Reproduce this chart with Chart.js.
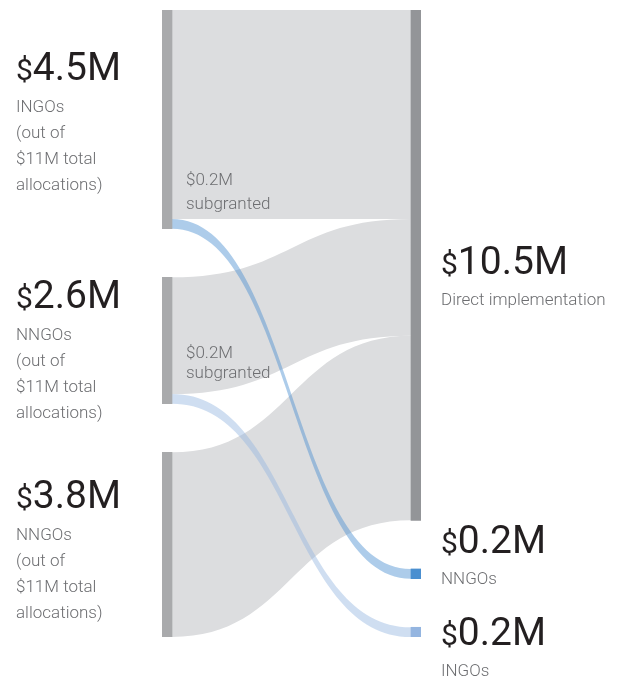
<!DOCTYPE html>
<html><head><meta charset="utf-8">
<script src="https://cdn.jsdelivr.net/npm/chart.js@4"></script>
<style>html,body{margin:0;padding:0;background:#fff}</style>
</head><body><canvas id="c" width="633" height="682"></canvas>
<script>
// ---- data ----
const sourceNames = ['INGOs', 'NNGOs', 'NNGOs'];
const sourceValues = [4.5, 2.6, 3.8];
const sourceAmounts = ['4.5M', '2.6M', '3.8M'];
const sourceSubLines = ['(out of', '$11M total', 'allocations)'];
const targetNames = ['Direct implementation', 'NNGOs', 'INGOs'];
const targetValues = [10.5, 0.2, 0.2];
const targetAmounts = ['10.5M', '0.2M', '0.2M'];
const flowFrom = [0, 0, 1, 1, 2];
const flowTo = [0, 1, 0, 2, 0];
const flowValues = [4.3, 0.2, 2.4, 0.2, 3.8];
const subgrantSources = [0, 1];
const subgrantLines = ['$0.2M', 'subgranted'];

// ---- layout / style ----
const nodeGap = 1.0;
const nodeWidth = 10;
const sourceColor = '#a9aaac';
const targetColors = ['#939598', '#4a8fd0', '#94b5e0'];
const flowColors = ['#dcdddf', 'rgba(74,143,208,0.45)', 'rgba(148,181,224,0.45)'];
const leftBigOffset = [-39, -33, -37];
const rightBigOffset = [9, -21, 13];
const subgrantOffset = [[-44, -20], [-46, -26]];

function stack(vals) { let y = 0; return vals.map(v => { const r = [y, y + v]; y += v + nodeGap; return r; }); }
const srcRanges = stack(sourceValues);
const tgtRanges = stack(targetValues);
const yMax = Math.max(srcRanges[srcRanges.length - 1][1], tgtRanges[tgtRanges.length - 1][1]);

const nodeData = srcRanges.map(r => ({ x: 0, y: r })).concat(tgtRanges.map(r => ({ x: 1, y: r })));
const nodeColors = srcRanges.map(() => sourceColor).concat(targetColors);

const flowPlugin = {
  id: 'flows',
  beforeDatasetsDraw(chart) {
    const { ctx, scales: { x, y } } = chart;
    const x0 = x.getPixelForValue(0) + nodeWidth / 2;
    const x1 = x.getPixelForValue(1) - nodeWidth / 2;
    const xm = (x0 + x1) / 2;
    const sOff = srcRanges.map(r => r[0]);
    const tOff = tgtRanges.map(r => r[0]);
    const flows = flowValues.map((v, i) => {
      const s = flowFrom[i], t = flowTo[i];
      const a = sOff[s]; sOff[s] += v;
      const b = tOff[t]; tOff[t] += v;
      return { a, b, v, t };
    });
    flows.sort((p, q) => (p.t === 0 ? 0 : 1) - (q.t === 0 ? 0 : 1));
    ctx.save();
    flows.forEach(f => {
      const ya0 = y.getPixelForValue(f.a), ya1 = y.getPixelForValue(f.a + f.v);
      const yb0 = y.getPixelForValue(f.b), yb1 = y.getPixelForValue(f.b + f.v);
      ctx.beginPath();
      ctx.moveTo(x0, ya0);
      ctx.bezierCurveTo(xm, ya0, xm, yb0, x1, yb0);
      ctx.lineTo(x1, yb1);
      ctx.bezierCurveTo(xm, yb1, xm, ya1, x0, ya1);
      ctx.closePath();
      ctx.fillStyle = flowColors[f.t];
      ctx.fill();
    });
    ctx.restore();
  },
  afterDraw(chart) {
    const { ctx, scales: { x, y } } = chart;
    ctx.save();
    ctx.textBaseline = 'alphabetic';
    ctx.textAlign = 'left';
    function big(txt, px, base) {
      ctx.fillStyle = '#231f20';
      ctx.font = '30px Roboto';
      ctx.fillText('$', px, base);
      const w = ctx.measureText('$').width;
      ctx.font = '39px Roboto';
      ctx.fillText(txt, px + w, base);
    }
    function small(txt, px, base) {
      ctx.fillStyle = '#6d6e71';
      ctx.font = '300 17px Roboto';
      ctx.fillText(txt, px, base);
    }
    // left labels
    srcRanges.forEach((r, i) => {
      const cy = y.getPixelForValue((r[0] + r[1]) / 2);
      const b = cy + leftBigOffset[i];
      big(sourceAmounts[i], 16, b);
      small(sourceNames[i], 16, b + 32);
      sourceSubLines.forEach((l, k) => small(l, 16, b + 58 + k * 26));
    });
    // right labels
    const rx = x.getPixelForValue(1) + nodeWidth / 2 + 20;
    tgtRanges.forEach((r, i) => {
      const cy = y.getPixelForValue((r[0] + r[1]) / 2);
      const b = cy + rightBigOffset[i];
      big(targetAmounts[i], rx, b);
      small(targetNames[i], rx, b + 31);
    });
    // subgranted labels
    const sx = x.getPixelForValue(0) + nodeWidth / 2 + 14;
    subgrantSources.forEach((s, j) => {
      const bottom = y.getPixelForValue(srcRanges[s][1]);
      subgrantLines.forEach((l, k) => small(l, sx, bottom + subgrantOffset[j][k]));
    });
    ctx.restore();
  }
};

new Chart(document.getElementById('c'), {
  type: 'bar',
  data: {
    datasets: [{
      data: nodeData,
      backgroundColor: nodeColors,
      borderWidth: 0,
      barThickness: nodeWidth
    }]
  },
  options: {
    responsive: false,
    animation: false,
    layout: { padding: { left: 162, right: 212, top: 10, bottom: 45 } },
    plugins: { legend: { display: false }, tooltip: { enabled: false } },
    scales: {
      x: { type: 'linear', offset: false, min: -0.0201, max: 1.0201, display: false },
      y: { type: 'linear', min: 0, max: yMax, reverse: true, display: false }
    }
  },
  plugins: [flowPlugin]
});
</script>
</body></html>
